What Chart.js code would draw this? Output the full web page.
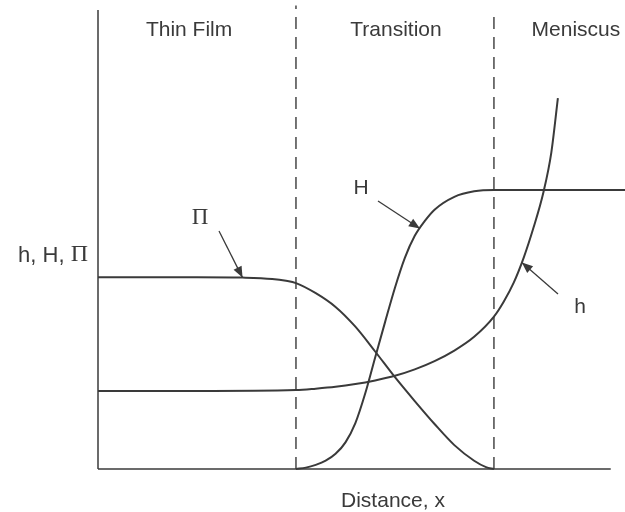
<!DOCTYPE html>
<html>
<head>
<meta charset="utf-8">
<script src="https://cdn.jsdelivr.net/npm/chart.js@4"></script>
<style>
  html, body { margin: 0; padding: 0; background: #fff; }
  #chart { display: block; }
</style>
</head>
<body>
<canvas id="chart" width="625" height="512"></canvas>
<script>
// distance along the film: thin film 0-1, transition 1-2, meniscus 2+
const regions = ['Thin Film', 'Transition', 'Meniscus'];
const regionBounds = [1, 2];

// disjoining pressure, Pi
const piX = [0, 0.5, 0.73, 0.88, 0.95, 1.0, 1.1, 1.2, 1.3, 1.4, 1.5, 1.6, 1.7, 1.8, 1.9, 1.96, 2.0];
const piY = [41.8, 41.8, 41.7, 41.4, 41.0, 40.5, 38.3, 35.3, 31.0, 25.6, 20.0, 14.8, 9.8, 5.2, 1.8, 0.4, 0];

// curvature, H
const bigHX = [1.0, 1.05, 1.1, 1.15, 1.2, 1.25, 1.3, 1.35, 1.4, 1.45, 1.5, 1.55, 1.6, 1.65, 1.7, 1.8, 1.9, 2.0, 2.662];
const bigHY = [0, 0.3, 0.9, 1.8, 3.3, 5.8, 10.0, 16.5, 24.3, 32.0, 39.5, 46.0, 50.8, 54.0, 56.5, 59.3, 60.5, 60.8, 60.8];

// film thickness, h
const hX = [0, 0.5, 1.0, 1.1, 1.2, 1.3, 1.4, 1.5, 1.6, 1.7, 1.8, 1.9, 2.0, 2.05, 2.1, 2.15, 2.2, 2.25, 2.29, 2.323];
const hY = [17.0, 17.0, 17.2, 17.5, 17.9, 18.5, 19.3, 20.3, 21.7, 23.5, 25.8, 28.8, 33.2, 36.5, 40.6, 46.0, 52.6, 60.3, 69.0, 80.8];

const ink = '#3a3a3a';

function pts(xs, ys) {
  return xs.map((x, i) => ({ x: x, y: ys[i] }));
}

function curve(xs, ys) {
  return {
    data: pts(xs, ys),
    borderColor: ink,
    borderWidth: 2,
    pointRadius: 0,
    showLine: true,
    cubicInterpolationMode: 'monotone',
    clip: false
  };
}

function straight(data, dash, width) {
  return {
    data: data,
    borderColor: ink,
    borderWidth: width,
    borderDash: dash,
    pointRadius: 0,
    showLine: true,
    tension: 0,
    clip: false
  };
}

function arrow(ctx, x1, y1, x2, y2) {
  ctx.beginPath();
  ctx.moveTo(x1, y1);
  ctx.lineTo(x2, y2);
  ctx.stroke();
  const a = Math.atan2(y2 - y1, x2 - x1);
  const len = 11, w = 4.5;
  ctx.beginPath();
  ctx.moveTo(x2, y2);
  ctx.lineTo(x2 - len * Math.cos(a) + w * Math.sin(a), y2 - len * Math.sin(a) - w * Math.cos(a));
  ctx.lineTo(x2 - len * Math.cos(a) - w * Math.sin(a), y2 - len * Math.sin(a) + w * Math.cos(a));
  ctx.closePath();
  ctx.fill();
}

const labels = {
  id: 'labels',
  afterDraw(chart) {
    const ctx = chart.ctx;
    const sx = chart.scales.x, sy = chart.scales.y;
    const px = v => sx.getPixelForValue(v);
    const py = v => sy.getPixelForValue(v);
    ctx.save();
    ctx.fillStyle = ink;
    ctx.strokeStyle = ink;
    ctx.lineWidth = 1.3;
    ctx.textBaseline = 'middle';
    ctx.textAlign = 'center';
    const sans = '21px "Liberation Sans", Arial, sans-serif';
    const serif = '23px "Liberation Serif", "Times New Roman", serif';

    // region names
    ctx.font = sans;
    const mids = [0.46, 1.505, 2.414];
    regions.forEach((r, i) => ctx.fillText(r, px(mids[i]), 30));

    // x axis title
    ctx.fillText('Distance, x', px(1.49), 501);

    // y axis title: "h, H, " in sans, Pi in serif
    ctx.textAlign = 'left';
    const part = 'h, H, ';
    const ySans = '22px "Liberation Sans", Arial, sans-serif';
    const ySerif = '24px "Liberation Serif", "Times New Roman", serif';
    ctx.font = ySerif;
    const wPi = ctx.measureText('\u03A0').width;
    ctx.font = ySans;
    const wPart = ctx.measureText(part).width;
    const right = 88;
    ctx.fillText(part, right - wPi - wPart, 256);
    ctx.font = ySerif;
    ctx.fillText('\u03A0', right - wPi, 255);

    // curve labels and arrows
    ctx.textAlign = 'center';
    ctx.font = serif;
    ctx.fillText('\u03A0', 200, 218);
    arrow(ctx, 219, 231, px(0.73), py(41.7));

    ctx.font = sans;
    ctx.fillText('H', 361, 188);
    arrow(ctx, 378, 201, px(1.626), py(52.4));

    ctx.fillText('h', 580, 307);
    arrow(ctx, 558, 294, px(2.141), py(45.0));
    ctx.restore();
  }
};

new Chart(document.getElementById('chart'), {
  type: 'scatter',
  data: {
    datasets: [
      straight([{ x: 0, y: 0 }, { x: 0, y: 100 }], [], 1.5),
      straight([{ x: 0, y: 0 }, { x: 2.59, y: 0 }], [], 1.5),
      straight([{ x: regionBounds[0], y: 0 }, { x: regionBounds[0], y: 101 }], [12, 8], 1.4),
      straight([{ x: regionBounds[1], y: 0 }, { x: regionBounds[1], y: 99 }], [12, 8], 1.4),
      curve(piX, piY),
      curve(bigHX, bigHY),
      curve(hX, hY)
    ]
  },
  options: {
    responsive: false,
    animation: false,
    layout: { padding: { left: 98, right: 0, top: 10, bottom: 43 } },
    plugins: { legend: { display: false }, tooltip: { enabled: false } },
    scales: {
      x: { type: 'linear', min: 0, max: 2.662, display: false },
      y: { type: 'linear', min: 0, max: 100, display: false }
    }
  },
  plugins: [labels]
});
</script>
</body>
</html>
